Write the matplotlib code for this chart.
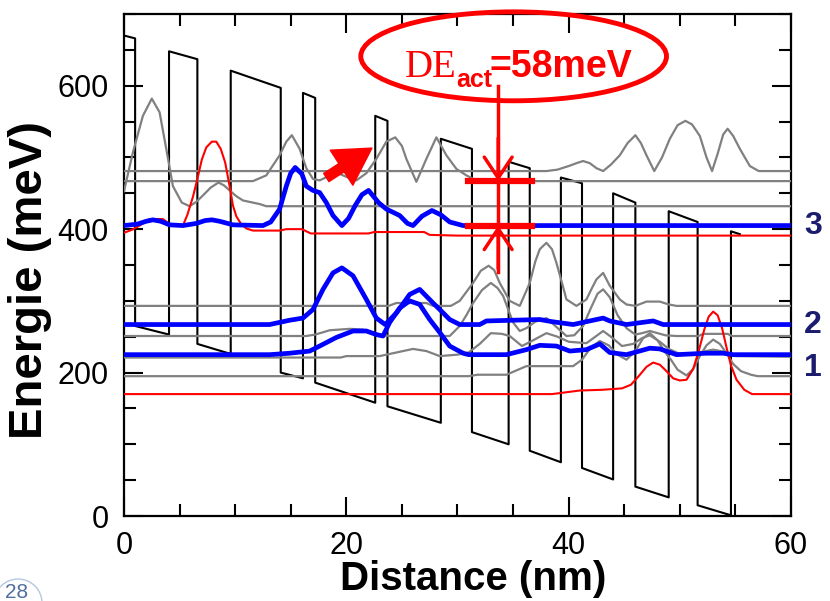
import numpy as np
import matplotlib
matplotlib.use("Agg")
import matplotlib.pyplot as plt
from matplotlib.patches import Ellipse, FancyArrowPatch, Circle
from matplotlib.transforms import IdentityTransform
from matplotlib.ticker import MultipleLocator

plt.rcParams['font.family'] = ['Liberation Sans', 'DejaVu Sans']

# ---------------- data (nm, meV) ----------------
# conduction band profile
cb_x = [0, 1.0, 1.0, 4.05, 4.05, 6.6, 6.6, 9.6, 9.6, 14.1, 14.1, 16.1, 16.1, 17.2, 17.2,
        22.6, 22.6, 23.7, 23.7, 28.5, 28.5, 31.3, 31.3, 34.6, 34.6, 36.5, 36.5, 39.3, 39.3,
        41.2, 41.2, 44.0, 44.0, 46.0, 46.0, 49.0, 49.0, 51.6, 51.6, 54.6, 54.6, 55.4]
cb_y = [670, 666, 265, 253, 648, 637, 240, 226, 621, 597, 200, 192, 590, 583, 186,
        158, 558, 551, 153, 130, 526, 512, 117, 100, 494, 485, 91, 75, 472,
        464, 67, 51, 450, 437, 41, 26, 425, 410, 15, 1, 397, 393]

# gray levels
g481_x = [0, 38.0, 39.0, 40.0, 40.7, 41.3, 41.9, 42.5, 43.1, 43.8, 44.6, 45.3, 46.0, 46.5, 47.0,
          47.7, 48.4, 49.1, 49.8, 50.5, 51.1, 51.8, 52.4, 52.9, 53.4, 53.9, 54.3, 54.8, 55.4,
          56.3, 57.1, 60]
g481_y = [481, 481, 483, 488, 492, 495, 492, 485, 481, 490, 503, 520, 531, 520, 503,
          481, 500, 526, 545, 551, 546, 530, 500, 481, 505, 532, 540, 530, 512,
          488, 481, 481]

g467_x = [0, 11.6, 12.8, 14.0, 14.6, 15.1, 15.8, 16.4, 17.0, 17.6, 18.4, 19.1, 20.0, 20.9,
          21.8, 22.7, 23.6, 24.4, 25.0, 25.4, 26.3, 27.2, 28.1, 29.0, 29.9, 30.8, 31.7, 32.5, 60]
g467_y = [467, 467, 475, 503, 522, 531, 512, 485, 470, 468, 474, 479, 473, 468,
          478, 498, 522, 528, 516, 498, 466, 498, 528, 503, 484, 475, 468, 467, 467]

g432_x = [0, 0.8, 1.7, 2.5, 3.2, 3.8, 4.4, 5.2, 5.9, 6.5, 7.1, 7.8, 8.5, 9.0, 9.5, 10.1,
          10.7, 12.2, 12.8, 60]
g432_y = [453, 507, 558, 582, 563, 512, 460, 437, 432, 438, 447, 458, 465, 461, 454, 446,
          440, 435, 432, 432]

g293_x = [0, 23.8, 24.5, 27.2, 27.8, 29.4, 30.2, 31.4, 32.1, 32.8, 33.3, 33.8, 34.7, 35.6,
          36.5, 37.0, 37.4, 38.0, 38.5, 38.9, 39.4, 39.8, 40.7, 41.6, 42.1, 42.5, 43.1, 43.7,
          44.6, 45.2, 46.0, 47.0, 48.2, 49.0, 49.7, 60]
g293_y = [293, 293, 297, 297, 293, 293, 300, 325, 342, 349, 343, 325, 300, 293,
          325, 355, 372, 381, 372, 353, 325, 302, 293, 302, 318, 330, 339, 321,
          302, 295, 293, 299, 299, 295, 293, 293]

g251_x = [0, 16.4, 17.2, 18.5, 20.3, 21.5, 22.7, 23.9, 29.3, 30.2, 30.8, 31.4, 32.2, 33.0,
          33.6, 34.1, 35.0, 35.6, 36.2, 37.0, 38.0, 38.8, 39.8, 40.5, 41.3, 42.0, 42.6, 43.1,
          43.7, 44.4, 45.2, 46.0, 46.6, 47.3, 48.0, 48.7, 49.7, 51.7, 52.1, 54.3, 54.7, 60]
g251_y = [251, 251, 253, 259, 261, 260, 253, 251, 251, 265, 280, 297, 315, 325,
          318, 307, 270, 258, 262, 271, 276, 265, 251, 252, 265, 290, 310, 316,
          305, 280, 262, 253, 255, 258, 255, 252, 251, 251, 254, 254, 251, 251]

g221_x = [0, 19.5, 20.0, 23.0, 24.5, 26.0, 27.2, 28.4, 30.0, 31.0, 32.0, 33.0, 34.0, 34.7,
          35.8, 36.8, 38.0, 39.0, 40.0, 41.6, 42.4, 43.1, 43.8, 44.8, 45.8, 46.6, 47.3, 48.2,
          49.0, 50.0, 51.0, 52.0, 53.0, 54.0, 55.0, 60]
g221_y = [221, 221, 223, 223, 228, 233, 230, 223, 225, 228, 240, 255, 254, 251,
          237, 245, 255, 250, 243, 241, 250, 258, 250, 237, 240, 248, 252, 243,
          233, 226, 226, 229, 232, 229, 223, 222]

g195_x = [0, 31.0, 31.8, 34.4, 35.3, 36.2, 40.4, 41.2, 42.0, 42.8, 43.6, 44.4, 45.2, 46.0,
          46.7, 47.3, 48.0, 48.6, 49.2, 49.8, 50.6, 51.2, 51.8, 52.4, 53.0, 53.6, 54.2, 54.8,
          55.5, 56.4, 57.0, 60]
g195_y = [195, 195, 197, 197, 203, 209, 209, 218, 235, 244, 238, 225, 218, 230,
          248, 255, 245, 230, 218, 204, 196, 205, 223, 238, 246, 240, 227, 212,
          202, 197, 195, 195]

# red states
red_up_x = [0, 0.7, 1.4, 2.3, 3.5, 4.1, 5.3, 5.7, 6.2, 6.6, 7.0, 7.4, 7.9, 8.3, 8.7, 9.1,
            9.5, 9.8, 10.1, 10.5, 11.0, 11.6, 14.0, 14.6, 16.0, 16.8, 22.0, 22.5, 27.0,
            27.5, 30.0, 60]
red_up_y = [395, 399, 405, 414, 414, 407, 405, 420, 445, 470, 497, 514, 522, 522, 512, 493,
            460, 433, 418, 408, 401, 398, 398, 400, 400, 394, 394, 396, 396,
            392, 391, 391]

red_lo_x = [0, 38.5, 39.5, 41.0, 43.0, 44.8, 45.6, 46.3, 47.0, 47.6, 48.2, 48.8, 49.4, 50.0,
            50.6, 51.2, 51.7, 52.2, 52.6, 53.0, 53.4, 53.8, 54.2, 54.6, 55.1, 55.8, 56.5, 60]
red_lo_y = [170, 170, 172, 175, 176, 178, 183, 195, 208, 214, 211, 202, 192, 189,
            190, 205, 230, 260, 278, 285, 280, 262, 235, 210, 190, 176, 170, 170]

# blue states 3, 2, 1
b3_x = [0, 1.2, 2.0, 2.6, 3.3, 4.1, 5.3, 6.5, 7.3, 7.9, 8.6, 9.8, 12.5, 13.2, 14.0, 14.6,
        15.0, 15.4, 16.0, 16.4, 17.0, 17.6, 18.2, 18.8, 19.6, 20.2, 20.8, 21.4, 22.0,
        22.9, 23.6, 24.8, 25.5, 26.0, 26.8, 27.7, 28.5, 29.3, 30.5, 60]
b3_y = [405, 407, 411, 413, 411, 406, 405, 408, 412, 413, 411, 406, 405, 410, 428, 460,
        478, 486, 477, 460, 454, 451, 437, 419, 405, 415, 433, 448, 454,
        437, 428, 419, 408, 405, 418, 426, 420, 410, 405, 405]

b2_x = [0, 13.1, 14.9, 16.1, 17.0, 17.9, 18.8, 19.6, 20.6, 21.8, 22.7, 23.5, 24.5, 25.7,
        26.6, 27.8, 28.4, 29.3, 30.2, 32.0, 32.6, 37.4, 38.5, 40.4, 42.5, 43.1, 43.7,
        45.2, 47.6, 48.5, 60]
b2_y = [267, 267, 273, 276, 288, 316, 339, 346, 335, 302, 276, 267, 283, 309,
        316, 297, 288, 274, 267, 267, 272, 274, 271, 267, 274, 276, 272,
        267, 272, 267, 267]

b1_x = [0, 13.1, 14.9, 16.7, 17.6, 19.1, 20.6, 21.8, 22.7, 23.3, 23.9, 24.8, 25.7, 26.6,
        27.5, 28.4, 29.3, 30.5, 31.0, 34.4, 36.2, 37.4, 38.9, 40.1, 41.6, 42.8, 43.7,
        45.2, 47.3, 48.2, 49.7, 52.4, 53.9, 54.8, 60]
b1_y = [225, 225, 227, 230, 237, 249, 258, 258, 253, 251, 270, 290, 300, 295,
        274, 256, 237, 227, 225, 225, 232, 238, 237, 230, 232, 240, 228,
        225, 234, 233, 225, 227, 227, 225, 225]

level_names = ['3', '2', '1']
level_label_y = [405, 267, 207]

# activation energy annotation
de_x = 33.66
de_top, de_bot = 467, 405

# ---------------- figure ----------------
fig = plt.figure(figsize=(8.3, 6.01), dpi=100)
ax = fig.add_axes([0.1494, 0.1414, 0.8036, 0.8353])

ax.plot(cb_x, cb_y, color='black', lw=1.5, zorder=2)
for gx, gy in [(g481_x, g481_y), (g467_x, g467_y), (g432_x, g432_y), (g293_x, g293_y),
               (g251_x, g251_y), (g221_x, g221_y), (g195_x, g195_y)]:
    ax.plot(gx, gy, color='#808080', lw=1.6, zorder=3)
ax.plot(red_up_x, red_up_y, color='#ff0000', lw=1.5, zorder=4)
ax.plot(red_lo_x, red_lo_y, color='#ff0000', lw=1.5, zorder=4)
for bx, by in [(b3_x, b3_y), (b2_x, b2_y), (b1_x, b1_y)]:
    ax.plot(bx, by, color='#0000ff', lw=3.4, zorder=5)

ax.set_xlim(0, 60)
ax.set_ylim(0, 700)
ax.xaxis.set_major_locator(MultipleLocator(20))
ax.xaxis.set_minor_locator(MultipleLocator(5))
ax.yaxis.set_major_locator(MultipleLocator(200))
ax.yaxis.set_minor_locator(MultipleLocator(50))
ax.tick_params(which='both', direction='in', top=True, right=True, width=1.5)
ax.tick_params(which='major', length=14)
ax.tick_params(which='minor', length=8.5)
ax.tick_params(axis='x', pad=11, labelsize=22)
ax.tick_params(axis='y', pad=11, labelsize=22)
for s in ax.spines.values():
    s.set_linewidth(1.6)
ax.set_xlabel('Distance (nm)', fontsize=29, fontweight='bold')
ax.set_ylabel('Energie (meV)', fontsize=34, fontweight='bold')
ax.xaxis.set_label_coords(0.523, -0.088)
ax.yaxis.set_label_coords(-0.108, 0.47)

# level numbers
for name, ly in zip(level_names, level_label_y):
    ax.text(61.2, ly, name, color='#1c1c6e', fontsize=23, fontweight='bold',
            ha='left', va='center', clip_on=False)

# ellipse and text
ax.add_patch(Ellipse((35.05, 641), 27.5, 124, fill=False, ec='#ff0000', lw=3.5,
                     clip_on=False, zorder=8))
ax.text(25.3, 612, 'DE', color='#ff0000', fontsize=28, family='Liberation Serif',
        ha='left', va='baseline', zorder=9)
ax.text(29.9, 598, 'act', color='#ff0000', fontsize=18, fontweight='bold',
        ha='left', va='baseline', zorder=9)
ax.text(32.9, 612, '=58meV', color='#ff0000', fontsize=27, fontweight='bold',
        ha='left', va='baseline', zorder=9)

# delta E markers
ax.plot([de_x, de_x], [340, 600], color='#ff0000', lw=2.5, zorder=9)
ax.plot([30.9, 36.7], [de_top, de_top], color='#ff0000', lw=4.5, zorder=9)
ax.plot([30.9, 36.7], [de_bot, de_bot], color='#ff0000', lw=4.5, zorder=9)
ax.annotate('', xy=(de_x, de_top), xytext=(de_x, de_top + 60),
            arrowprops=dict(arrowstyle='->,head_length=1.5,head_width=1.0', color='#ff0000',
                            lw=2.5, shrinkA=0, shrinkB=0), zorder=9)
ax.annotate('', xy=(de_x, de_bot), xytext=(de_x, de_bot - 60),
            arrowprops=dict(arrowstyle='->,head_length=1.5,head_width=1.0', color='#ff0000',
                            lw=2.5, shrinkA=0, shrinkB=0), zorder=9)

# red fat arrow
ax.add_patch(FancyArrowPatch((18.2, 472), (22.3, 513),
                             arrowstyle='simple,head_length=1.3,head_width=1.5,tail_width=0.35',
                             mutation_scale=20, color='#ff0000', shrinkA=0, shrinkB=0, zorder=9))

# slide page badge
fig.patches.append(Circle((18, -2), 24, transform=IdentityTransform(), fill=False,
                          ec='#b4c8e0', lw=1.0))
fig.text(17, 8, '28', transform=IdentityTransform(), fontsize=15, color='#4f6f9a',
         ha='center', va='center')

fig.savefig('out.png', dpi=100)
